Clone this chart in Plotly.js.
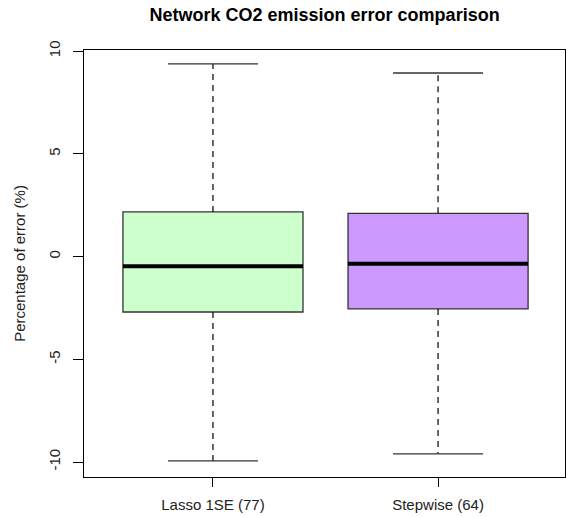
<!DOCTYPE html>
<html>
<head>
<meta charset="utf-8">
<script src="https://cdn.plot.ly/plotly-3.0.1.min.js"></script>
<style>html,body{margin:0;padding:0;background:#fff;}</style>
</head>
<body>
<div id="chart" style="width:566px;height:517px;"></div>
<script>
// Data
const categories = ["Lasso 1SE (77)", "Stepwise (64)"];
const positions = [1, 2];
const lowerWhisker = [-9.95, -9.6];
const q1 = [-2.7, -2.55];
const median = [-0.47, -0.35];
const q3 = [2.17, 2.1];
const upperWhisker = [9.37, 8.93];
const fillColors = ["#CCFFCC", "#CC99FF"];
const yTicks = [-10, -5, 0, 5, 10];

const boxWidth = 0.8;
const capHalf = 0.2;
const traces = [];

categories.forEach((c, i) => {
  const x = positions[i];
  traces.push({
    type: "box", name: c, x: [x],
    q1: [q1[i]], median: [median[i]], q3: [q3[i]],
    lowerfence: [q1[i]], upperfence: [q3[i]],
    width: boxWidth, whiskerwidth: 0,
    fillcolor: fillColors[i],
    line: {color: "#333333", width: 1.3},
    hoverinfo: "skip", showlegend: false
  });
  // dashed whiskers
  traces.push({type: "scatter", mode: "lines", x: [x, x], y: [q3[i], upperWhisker[i]],
    line: {color: "#000", width: 1.2, dash: "6px,5px"}, showlegend: false, hoverinfo: "skip"});
  traces.push({type: "scatter", mode: "lines", x: [x, x], y: [q1[i], lowerWhisker[i]],
    line: {color: "#000", width: 1.2, dash: "6px,5px"}, showlegend: false, hoverinfo: "skip"});
  // caps
  traces.push({type: "scatter", mode: "lines", x: [x - capHalf, x + capHalf], y: [upperWhisker[i], upperWhisker[i]],
    line: {color: "#333", width: 1.3}, showlegend: false, hoverinfo: "skip"});
  traces.push({type: "scatter", mode: "lines", x: [x - capHalf, x + capHalf], y: [lowerWhisker[i], lowerWhisker[i]],
    line: {color: "#333", width: 1.3}, showlegend: false, hoverinfo: "skip"});
  // thick median
  traces.push({type: "scatter", mode: "lines", x: [x - boxWidth / 2, x + boxWidth / 2], y: [median[i], median[i]],
    line: {color: "#000", width: 4}, showlegend: false, hoverinfo: "skip"});
});

const layout = {
  width: 566, height: 517,
  margin: {l: 84, r: 1, t: 50, b: 40},
  paper_bgcolor: "#fff", plot_bgcolor: "#fff",
  font: {family: "Liberation Sans, Arial, sans-serif", size: 15, color: "#000"},
  title: {text: "<b>Network CO2 emission error comparison</b>", font: {size: 18, color: "#000"},
          x: 0.5735, xanchor: "center", y: 0.971, yanchor: "middle"},
  boxmode: "overlay",
  showlegend: false,
  xaxis: {
    range: [0.427, 2.564], tickvals: positions, ticktext: categories,
    showline: true, mirror: true, linecolor: "#000", linewidth: 1.2,
    ticks: "outside", ticklen: 9, tickcolor: "#000", tickwidth: 1,
    showgrid: false, zeroline: false, ticklabelstandoff: 5,
    tickfont: {size: 15, color: "#222"}
  },
  yaxis: {
    range: [-10.73, 10.05], tickvals: yTicks, ticktext: yTicks.map(String),
    showline: true, mirror: true, linecolor: "#000", linewidth: 1.2,
    ticks: "outside", ticklen: 10, tickcolor: "#000", tickwidth: 1,
    showgrid: false, zeroline: false, tickangle: -90, ticklabelstandoff: 7,
    tickfont: {size: 15, color: "#222"},
    title: {text: "Percentage of error (%)", font: {size: 15, color: "#222"}, standoff: 16}
  }
};

Plotly.newPlot("chart", traces, layout, {staticPlot: true, displayModeBar: false});
</script>
</body>
</html>
